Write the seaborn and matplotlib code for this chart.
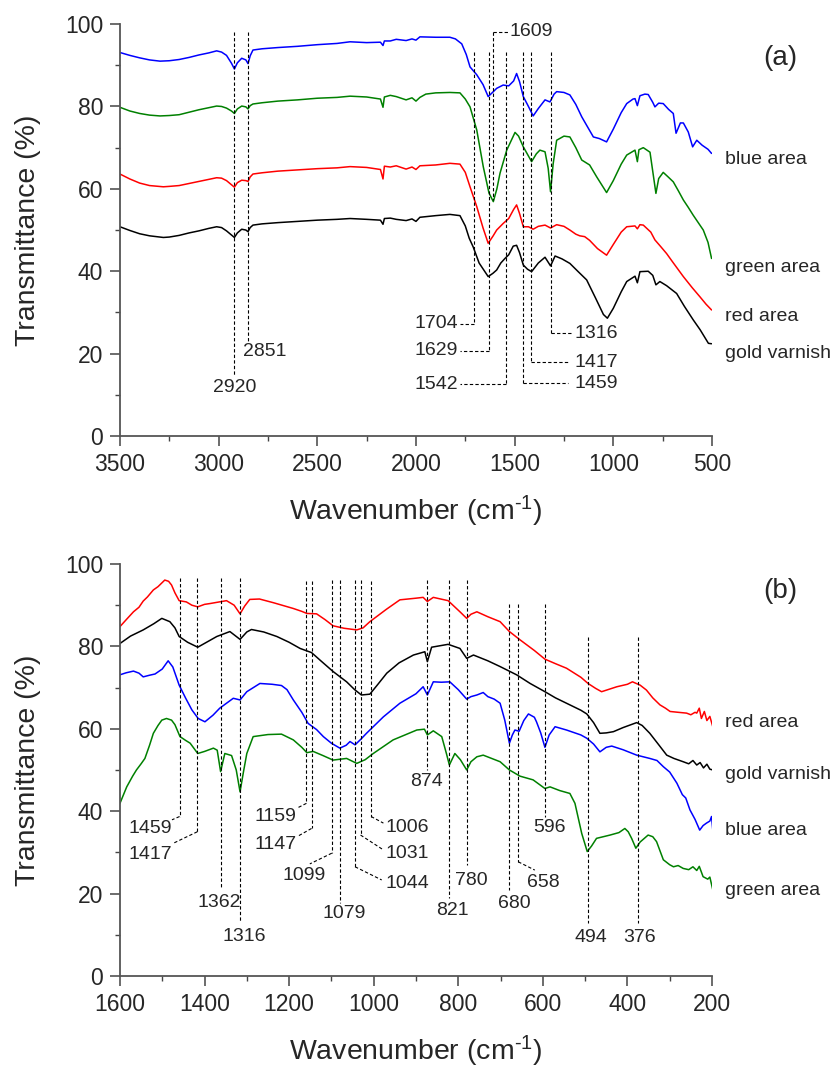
import pandas as pd
import numpy as np
import seaborn as sns
import matplotlib
matplotlib.use('Agg')
import matplotlib.pyplot as plt
from matplotlib.ticker import MultipleLocator

# ---- spectra: (wavenumber cm-1, transmittance %) ----
a_blue = [(3500, 93.1), (3450, 92.4), (3400, 91.8), (3350, 91.3), (3297, 91.0), (3250, 91.1),
          (3200, 91.4), (3150, 91.9), (3100, 92.5), (3050, 93.0), (3010, 93.5), (2985, 93.2),
          (2960, 92.4), (2935, 90.5), (2920, 89.1), (2905, 90.6), (2883, 91.7), (2862, 91.3),
          (2851, 90.4), (2840, 92.3), (2826, 93.7), (2780, 94.0), (2700, 94.3), (2600, 94.6),
          (2500, 95.0), (2400, 95.3), (2334, 95.7), (2250, 95.5), (2180, 95.6), (2167, 94.8),
          (2160, 95.9), (2130, 95.9), (2100, 96.3), (2050, 96.0), (2020, 96.4), (2000, 96.1),
          (1980, 96.9), (1900, 96.8), (1828, 96.8), (1800, 96.4), (1768, 95.2), (1745, 92.6),
          (1726, 89.6), (1692, 87.7), (1660, 85.3), (1634, 82.4), (1610, 83.5), (1591, 84.4),
          (1558, 85.2), (1530, 85.0), (1505, 86.2), (1490, 88.0), (1475, 86.0), (1456, 82.4),
          (1430, 80.0), (1406, 77.7), (1380, 79.5), (1346, 81.6), (1321, 81.1), (1300, 83.0),
          (1287, 83.6), (1250, 83.4), (1220, 82.8), (1190, 80.5), (1160, 77.5), (1130, 75.0),
          (1101, 72.6), (1070, 72.2), (1034, 71.4), (1000, 74.5), (960, 78.5), (932, 80.7),
          (900, 81.8), (890, 81.9), (878, 80.2), (865, 82.6), (840, 83.0), (823, 82.9),
          (800, 81.0), (789, 79.9), (770, 80.8), (747, 80.7), (720, 79.3), (696, 78.3),
          (682, 73.5), (660, 76.0), (645, 76.0), (620, 73.8), (598, 70.2), (577, 71.8),
          (550, 70.6), (520, 69.6), (502, 68.6)]

a_green = [(3500, 79.8), (3450, 78.9), (3400, 78.3), (3350, 77.9), (3297, 77.7), (3250, 77.8),
           (3200, 78.0), (3150, 78.6), (3100, 79.2), (3050, 79.7), (3010, 80.1), (2985, 80.0),
           (2960, 79.6), (2935, 78.9), (2920, 78.3), (2905, 79.4), (2883, 80.1), (2862, 79.9),
           (2851, 79.4), (2840, 80.2), (2826, 80.6), (2780, 80.9), (2700, 81.3), (2600, 81.6),
           (2500, 82.0), (2400, 82.2), (2334, 82.5), (2250, 82.3), (2180, 81.8), (2167, 79.8),
           (2160, 82.3), (2130, 82.7), (2100, 82.4), (2050, 81.6), (2020, 82.1), (2000, 81.3),
           (1980, 82.2), (1950, 83.0), (1900, 83.3), (1828, 83.4), (1777, 83.3), (1750, 81.8),
           (1726, 79.9), (1692, 74.3), (1659, 65.4), (1630, 59.0), (1608, 56.9), (1590, 60.0),
           (1574, 63.8), (1540, 69.4), (1498, 73.7), (1480, 72.8), (1456, 70.2), (1414, 66.6),
           (1390, 68.5), (1372, 69.4), (1346, 69.0), (1330, 65.0), (1318, 59.3), (1305, 66.0),
           (1287, 71.8), (1250, 72.8), (1220, 72.6), (1190, 70.0), (1160, 67.0), (1120, 65.8),
           (1084, 62.9), (1034, 59.1), (1000, 62.0), (960, 66.0), (932, 68.2), (890, 69.4),
           (878, 66.6), (870, 69.5), (848, 70.0), (814, 68.9), (784, 58.9), (770, 62.5),
           (747, 64.0), (720, 62.8), (696, 61.7), (670, 59.5), (645, 57.3), (620, 55.5),
           (595, 53.6), (544, 50.0), (520, 47.0), (502, 43.1)]

a_red = [(3500, 63.6), (3450, 62.4), (3400, 61.4), (3350, 60.8), (3280, 60.5), (3250, 60.6),
         (3200, 60.8), (3150, 61.3), (3100, 61.8), (3050, 62.3), (3010, 62.7), (2985, 62.6),
         (2960, 62.0), (2935, 61.0), (2920, 60.4), (2905, 61.5), (2883, 62.1), (2862, 62.0),
         (2851, 61.8), (2840, 62.9), (2826, 63.6), (2780, 63.9), (2700, 64.3), (2600, 64.6),
         (2500, 64.9), (2400, 65.1), (2334, 65.4), (2250, 65.2), (2180, 64.7), (2167, 62.4),
         (2160, 65.5), (2130, 65.3), (2100, 65.6), (2050, 64.8), (2020, 65.3), (2000, 64.7),
         (1980, 65.6), (1900, 65.8), (1828, 66.2), (1777, 66.0), (1750, 64.0), (1726, 60.5),
         (1692, 55.7), (1660, 50.5), (1634, 46.8), (1610, 48.5), (1591, 50.0), (1558, 51.6),
         (1530, 52.8), (1505, 55.0), (1490, 56.1), (1475, 54.0), (1456, 50.8), (1430, 50.8),
         (1406, 50.2), (1380, 50.9), (1346, 51.2), (1318, 50.5), (1287, 51.3), (1250, 50.9),
         (1220, 50.0), (1190, 49.0), (1170, 48.6), (1145, 48.4), (1120, 47.5), (1080, 45.5),
         (1034, 43.9), (1000, 46.5), (960, 49.5), (932, 50.8), (890, 51.0), (878, 50.3),
         (865, 51.3), (848, 51.2), (810, 49.5), (789, 47.6), (760, 46.0), (730, 44.3),
         (700, 42.3), (645, 38.7), (600, 36.0), (561, 33.8), (530, 32.0), (502, 30.6)]

a_gold = [(3500, 50.8), (3450, 49.9), (3400, 49.1), (3350, 48.6), (3280, 48.2), (3250, 48.3),
          (3200, 48.7), (3150, 49.3), (3100, 49.8), (3050, 50.4), (3010, 50.8), (2985, 50.6),
          (2960, 49.8), (2935, 48.8), (2920, 48.2), (2905, 49.3), (2883, 50.2), (2862, 50.0),
          (2851, 49.6), (2840, 50.6), (2826, 51.2), (2780, 51.5), (2700, 51.8), (2600, 52.1),
          (2500, 52.4), (2400, 52.6), (2334, 52.8), (2250, 52.6), (2180, 52.4), (2167, 51.4),
          (2160, 52.8), (2130, 52.9), (2100, 52.6), (2050, 52.3), (2020, 52.7), (2000, 52.1),
          (1980, 53.1), (1900, 53.5), (1828, 53.8), (1777, 53.5), (1750, 51.0), (1730, 48.0),
          (1710, 45.9), (1680, 42.0), (1634, 38.7), (1610, 39.5), (1591, 40.3), (1570, 42.0),
          (1549, 43.1), (1530, 44.0), (1507, 46.1), (1490, 46.3), (1475, 44.5), (1456, 41.5),
          (1435, 40.5), (1414, 39.9), (1380, 42.0), (1346, 43.4), (1318, 41.3), (1295, 43.7),
          (1260, 43.0), (1220, 41.9), (1180, 40.0), (1135, 37.9), (1090, 33.5), (1050, 29.5),
          (1030, 28.6), (1000, 31.0), (960, 35.0), (932, 37.5), (890, 38.8), (878, 37.2),
          (865, 39.9), (823, 40.0), (800, 39.0), (784, 36.7), (764, 37.5), (730, 36.5),
          (679, 34.6), (640, 31.5), (595, 28.2), (560, 25.8), (518, 22.5), (502, 22.4)]

b_red = [(1600, 84.8), (1585, 86.5), (1568, 88.4), (1555, 89.5), (1545, 91.0), (1535, 92.0),
         (1521, 93.7), (1510, 94.5), (1494, 96.1), (1485, 95.8), (1478, 94.9), (1470, 93.0),
         (1460, 91.1), (1443, 90.8), (1430, 90.0), (1416, 89.6), (1400, 90.2), (1387, 90.4),
         (1348, 91.1), (1330, 90.0), (1316, 87.9), (1305, 89.8), (1293, 91.4), (1270, 91.5),
         (1237, 90.6), (1190, 89.2), (1170, 88.5), (1158, 88.0), (1135, 87.9), (1115, 86.5),
         (1096, 85.0), (1070, 84.4), (1040, 84.0), (1025, 84.5), (1009, 86.0), (970, 89.0),
         (938, 91.3), (900, 91.7), (883, 91.9), (873, 90.9), (859, 91.9), (824, 91.1),
         (796, 88.4), (780, 86.8), (770, 87.8), (756, 88.4), (730, 87.2), (701, 86.0),
         (679, 83.6), (654, 81.6), (620, 79.0), (595, 76.9), (570, 75.8), (544, 74.7),
         (510, 72.5), (493, 71.0), (475, 69.8), (461, 69.0), (440, 69.7), (425, 70.2),
         (400, 70.8), (388, 71.4), (370, 70.6), (355, 69.4), (340, 67.5), (323, 65.8),
         (310, 65.0), (299, 64.2), (280, 64.0), (260, 63.8), (250, 63.4), (240, 64.0),
         (236, 63.8), (230, 65.0), (225, 62.5), (218, 64.2), (212, 62.0), (205, 63.0),
         (198, 60.5)]

b_gold = [(1600, 80.7), (1575, 82.5), (1545, 84.0), (1520, 85.5), (1501, 86.8), (1482, 86.0),
          (1470, 84.5), (1460, 82.4), (1440, 81.0), (1416, 79.8), (1390, 81.3), (1371, 82.4),
          (1340, 83.6), (1316, 81.7), (1300, 83.5), (1289, 84.1), (1260, 83.5), (1229, 82.4),
          (1200, 81.0), (1174, 79.5), (1147, 78.5), (1125, 76.5), (1096, 73.9), (1064, 71.4),
          (1045, 69.5), (1029, 68.2), (1009, 68.4), (990, 70.8), (969, 73.5), (940, 76.0),
          (906, 77.9), (879, 78.7), (873, 76.3), (863, 79.8), (824, 80.5), (796, 79.5),
          (780, 77.1), (764, 77.9), (730, 76.5), (701, 75.1), (662, 73.1), (630, 71.0),
          (595, 69.0), (570, 67.5), (544, 66.2), (510, 64.5), (496, 63.6), (480, 61.5),
          (465, 58.9), (450, 59.0), (433, 59.3), (410, 60.3), (378, 61.5), (365, 60.8),
          (347, 58.9), (325, 56.0), (307, 53.6), (290, 52.8), (268, 52.0), (255, 51.5),
          (245, 52.3), (236, 51.2), (228, 51.8), (220, 50.5), (212, 51.4), (205, 50.2),
          (198, 50.0)]

b_blue = [(1600, 73.1), (1585, 73.6), (1568, 74.0), (1555, 73.5), (1545, 72.6), (1530, 73.0),
          (1517, 73.3), (1500, 74.5), (1486, 76.5), (1475, 75.0), (1460, 70.6), (1445, 67.5),
          (1430, 64.6), (1415, 62.5), (1399, 61.7), (1380, 63.3), (1364, 65.0), (1332, 67.4),
          (1316, 67.0), (1300, 69.0), (1269, 71.0), (1240, 70.8), (1218, 70.5), (1205, 69.5),
          (1190, 67.0), (1170, 64.0), (1155, 61.3), (1135, 59.8), (1119, 58.1), (1100, 56.5),
          (1080, 55.3), (1065, 56.0), (1056, 56.9), (1044, 56.1), (1030, 57.5), (1017, 58.9),
          (977, 62.9), (938, 66.2), (900, 68.5), (883, 70.2), (873, 68.2), (859, 71.4),
          (840, 71.3), (820, 71.4), (800, 69.5), (780, 67.2), (770, 67.8), (756, 68.2),
          (741, 68.8), (730, 67.8), (715, 67.2), (701, 66.2), (690, 62.1), (679, 56.5),
          (672, 58.5), (666, 59.7), (656, 59.4), (645, 62.0), (634, 63.6), (620, 62.8),
          (615, 61.7), (605, 59.0), (595, 55.5), (585, 58.5), (571, 60.5), (544, 59.7),
          (510, 58.5), (496, 57.7), (480, 56.3), (465, 54.4), (450, 55.5), (437, 55.8),
          (410, 54.9), (378, 53.6), (347, 52.8), (330, 52.3), (315, 50.8), (300, 49.5),
          (283, 46.8), (270, 44.0), (262, 43.2), (252, 40.3), (240, 38.0), (229, 35.4),
          (221, 36.5), (213, 37.1), (205, 37.6), (201, 38.7), (198, 35.4)]

b_green = [(1600, 41.9), (1584, 45.9), (1570, 48.5), (1561, 50.0), (1550, 51.5), (1541, 52.8),
           (1530, 56.0), (1521, 58.9), (1510, 60.8), (1501, 62.1), (1490, 62.5), (1478, 62.1),
           (1470, 61.0), (1458, 58.1), (1445, 57.2), (1434, 56.5), (1416, 54.0), (1400, 54.5),
           (1379, 55.3), (1370, 54.8), (1362, 49.6), (1352, 54.0), (1336, 53.5), (1325, 50.0),
           (1316, 44.7), (1308, 49.5), (1300, 54.0), (1285, 58.1), (1250, 58.6), (1218, 58.7),
           (1190, 57.3), (1170, 55.5), (1158, 54.2), (1143, 54.5), (1120, 53.5), (1096, 52.4),
           (1080, 52.6), (1064, 52.8), (1040, 51.6), (1020, 52.5), (1001, 54.0), (954, 57.3),
           (898, 59.7), (880, 59.9), (873, 58.5), (859, 59.5), (839, 58.1), (828, 54.0),
           (821, 51.2), (808, 54.0), (795, 52.5), (780, 50.0), (770, 52.0), (756, 53.2),
           (741, 53.6), (701, 52.0), (679, 50.0), (654, 48.5), (623, 47.6), (595, 45.5),
           (583, 45.9), (560, 45.0), (536, 44.3), (524, 41.9), (508, 34.6), (495, 30.2),
           (485, 31.5), (473, 33.4), (441, 34.2), (420, 34.8), (406, 35.8), (398, 35.0),
           (390, 33.4), (380, 31.0), (370, 32.5), (351, 34.2), (340, 33.8), (331, 32.6),
           (315, 28.2), (300, 27.0), (291, 26.5), (280, 26.8), (268, 26.1), (255, 25.8),
           (245, 26.5), (236, 25.6), (230, 26.6), (221, 24.1), (210, 23.5), (205, 24.0),
           (198, 20.9)]

# sample names, in the order they are labelled at the right
samples_a = ['blue area', 'green area', 'red area', 'gold varnish']
samples_b = ['red area', 'gold varnish', 'blue area', 'green area']

# marked band positions (cm-1)
peaks_a = [2920, 2851, 1704, 1629, 1609, 1542, 1459, 1417, 1316]
peaks_b = [1459, 1417, 1362, 1316, 1159, 1147, 1099, 1079, 1044, 1031, 1006,
           874, 821, 780, 680, 658, 596, 494, 376]

colors = {'blue area': '#0000ff', 'green area': '#008000',
          'red area': '#ff0000', 'gold varnish': '#000000'}

# annotation layout: peak -> (line top, line bottom, leader end or None, text x, text y, ha)
layout_a = {
    2920: (98.1, 14.8, None, 2920, 11.9, 'center'),
    2851: (98.1, 22.9, None, 2878, 20.4, 'left'),
    1704: (93.3, 27.3, (1777, 27.3), 1787, 27.3, 'right'),
    1629: (93.3, 20.7, (1777, 20.7), 1787, 20.7, 'right'),
    1609: (98.1, 57.3, None, 1524, 98.1, 'left'),
    1542: (93.3, 12.6, (1777, 12.6), 1787, 12.6, 'right'),
    1459: (93.3, 12.8, (1230, 12.8), 1195, 12.8, 'left'),
    1417: (93.3, 17.9, (1230, 17.9), 1195, 17.9, 'left'),
    1316: (93.3, 24.9, (1203, 24.9), 1195, 24.9, 'left'),
}
layout_b = {
    1459: (96.5, 38.7, (1477, 37.9), 1529, 35.9, 'center'),
    1417: (96.5, 35.0, (1474, 32.2), 1529, 29.6, 'center'),
    1362: (96.5, 21.3, None, 1365, 17.8, 'center'),
    1316: (96.5, 13.2, None, 1306, 9.5, 'center'),
    1159: (95.8, 41.9, (1182, 40.7), 1232, 38.7, 'center'),
    1147: (95.8, 35.8, (1178, 34.0), 1232, 32.0, 'center'),
    1099: (96.2, 29.8, (1151, 27.2), 1165, 24.5, 'center'),
    1079: (96.2, 17.6, None, 1070, 15.2, 'center'),
    1044: (96.2, 26.5, (981, 23.3), 971, 22.5, 'left'),
    1031: (96.2, 34.2, (977, 30.6), 971, 29.8, 'left'),
    1006: (95.8, 38.7, (977, 37.1), 971, 36.1, 'left'),
    874: (96.2, 50.0, None, 876, 47.1, 'center'),
    821: (96.2, 18.9, None, 814, 16.0, 'center'),
    780: (96.2, 26.9, None, 770, 23.1, 'center'),
    680: (90.3, 20.9, None, 668, 17.6, 'center'),
    658: (90.3, 27.7, (619, 25.7), 600, 22.6, 'center'),
    596: (90.3, 38.7, None, 585, 36.1, 'center'),
    494: (82.4, 12.8, None, 486, 9.4, 'center'),
    376: (82.4, 12.8, None, 372, 9.4, 'center'),
}
label_y_a = [0.672, 0.410, 0.291, 0.201]
label_y_b = [0.615, 0.488, 0.354, 0.207]


def to_frame(series):
    rows = []
    for name, pts in series.items():
        for w, t in pts:
            rows.append({'wavenumber': w, 'T': t, 'sample': name})
    return pd.DataFrame(rows)


def draw_panel(ax, df, peaks, layout, samples, label_y, tag, tag_y, xlim, major, minor):
    sns.lineplot(data=df, x='wavenumber', y='T', hue='sample', palette=colors,
                 estimator=None, sort=False, legend=False, lw=1.1, ax=ax)

    dash = dict(color='black', lw=0.8, ls=(0, (3, 2)))
    for p in peaks:
        top, bottom, leader, tx, ty, ha = layout[p]
        ax.plot([p, p], [top, bottom], **dash)
        if leader is not None:
            ax.plot([p, leader[0]], [bottom, leader[1]], **dash)
        ax.text(tx, ty, str(p), ha=ha, va='center', fontsize=14)

    ax.set_xlim(*xlim)
    ax.set_ylim(0, 100)
    ax.xaxis.set_major_locator(MultipleLocator(major))
    ax.xaxis.set_minor_locator(MultipleLocator(minor))
    ax.yaxis.set_major_locator(MultipleLocator(20))
    ax.yaxis.set_minor_locator(MultipleLocator(10))
    ax.tick_params(which='major', direction='out', length=7, width=1.1,
                   color='#444444', labelsize=16.5, pad=5)
    ax.tick_params(which='minor', direction='out', length=3.5, width=1.0, color='#444444')
    for s in ['top', 'right']:
        ax.spines[s].set_visible(False)
    for s in ['left', 'bottom']:
        ax.spines[s].set_color('#555555')
        ax.spines[s].set_linewidth(1.3)

    ax.set_xlabel(r'Wavenumber (cm$^{\text{-}1}$)', fontsize=20.5, labelpad=13)
    ax.set_ylabel('Transmittance (%)', fontsize=20.5, labelpad=17)

    for name, y in zip(samples, label_y):
        ax.text(1.022, y, name, transform=ax.transAxes, ha='left', va='center', fontsize=14)
    ax.text(1.115, tag_y, tag, transform=ax.transAxes, ha='center', va='center', fontsize=20)


sns.set_style('ticks')
plt.rcParams['font.family'] = ['Liberation Sans', 'DejaVu Sans']
plt.rcParams['mathtext.fontset'] = 'custom'
plt.rcParams['mathtext.rm'] = 'Liberation Sans'
plt.rcParams['mathtext.it'] = 'Liberation Sans:italic'

fig = plt.figure(figsize=(8.33, 10.70), dpi=100)
ax_a = fig.add_axes([0.144, 0.5925, 0.7107, 0.385])
ax_b = fig.add_axes([0.144, 0.0879, 0.7107, 0.385])

df_a = to_frame({'blue area': a_blue, 'green area': a_green,
                 'red area': a_red, 'gold varnish': a_gold})
df_b = to_frame({'red area': b_red, 'gold varnish': b_gold,
                 'blue area': b_blue, 'green area': b_green})

draw_panel(ax_a, df_a, peaks_a, layout_a, samples_a, label_y_a, '(a)', 0.918,
           (3500, 500), 500, 250)
draw_panel(ax_b, df_b, peaks_b, layout_b, samples_b, label_y_b, '(b)', 0.935,
           (1600, 200), 200, 100)

# the 1609 band label sits at the top with a short horizontal leader
ax_a.plot([1609, 1534], [98.1, 98.1], color='black', lw=0.8, ls=(0, (3, 2)))

fig.savefig('out.png', dpi=100)
